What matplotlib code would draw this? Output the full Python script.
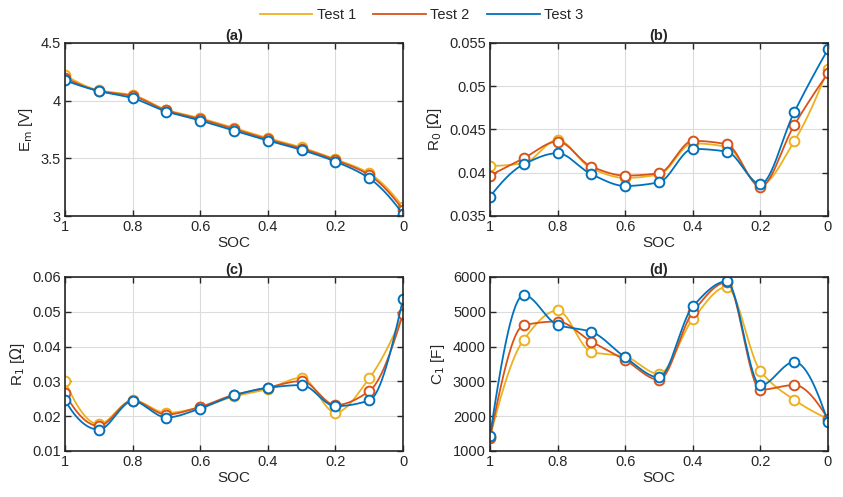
import numpy as np
import matplotlib
matplotlib.use("Agg")
import matplotlib.pyplot as plt

plt.rcParams['font.family'] = ['Liberation Sans', 'DejaVu Sans']

soc = [1.0, 0.9, 0.8, 0.7, 0.6, 0.5, 0.4, 0.3, 0.2, 0.1, 0.0]
tests = ['Test 1', 'Test 2', 'Test 3']
colors = ['#EDB120', '#D95319', '#0072BD']

# (a) Em [V]
em_t1 = [4.222, 4.090, 4.048, 3.921, 3.848, 3.764, 3.675, 3.594, 3.492, 3.370, 3.080]
em_t2 = [4.200, 4.085, 4.040, 3.915, 3.840, 3.755, 3.665, 3.585, 3.485, 3.355, 3.055]
em_t3 = [4.176, 4.083, 4.022, 3.906, 3.828, 3.741, 3.654, 3.573, 3.472, 3.327, 3.017]

# (b) R0 [Ohm]
r0_t1 = [0.04079, 0.0411, 0.0438, 0.0405, 0.0394, 0.0398, 0.0434, 0.0430, 0.0386, 0.04365, 0.05203]
r0_t2 = [0.03967, 0.04168, 0.04361, 0.04071, 0.03967, 0.03994, 0.04369, 0.0433, 0.0384, 0.0455, 0.05149]
r0_t3 = [0.03724, 0.04098, 0.04226, 0.03983, 0.03847, 0.0389, 0.04276, 0.04245, 0.0387, 0.0470, 0.05427]

# (c) R1 [Ohm]
r1_t1 = [0.0301, 0.0177, 0.0246, 0.02096, 0.0225, 0.0257, 0.0278, 0.03106, 0.02106, 0.03087, 0.04933]
r1_t2 = [0.02654, 0.01721, 0.0245, 0.02048, 0.02269, 0.02615, 0.0282, 0.0301, 0.0232, 0.02721, 0.04942]
r1_t3 = [0.02462, 0.01615, 0.02433, 0.01962, 0.02221, 0.02596, 0.02817, 0.02894, 0.02288, 0.02452, 0.05365]

# (d) C1 [F]
c1_t1 = [1400, 4202, 5038, 3846, 3712, 3212, 4788, 5712, 3298, 2471, 1930]
c1_t2 = [1375, 4615, 4721, 4144, 3615, 3048, 4990, 5846, 2760, 2894, 1930]
c1_t3 = [1423, 5481, 4625, 4423, 3692, 3115, 5154, 5875, 2885, 3558, 1827]


def pchip_curve(x, y, n=400):
    # shape-preserving cubic (like MATLAB pchip), only for the drawn line
    x = np.asarray(x, float)[::-1]
    y = np.asarray(y, float)[::-1]
    h = np.diff(x)
    delta = np.diff(y) / h
    m = len(x)
    d = np.zeros(m)
    for k in range(1, m - 1):
        if delta[k - 1] * delta[k] > 0:
            w1 = 2 * h[k] + h[k - 1]
            w2 = h[k] + 2 * h[k - 1]
            d[k] = (w1 + w2) / (w1 / delta[k - 1] + w2 / delta[k])

    def end_slope(h0, h1, d0, d1):
        s = ((2 * h0 + h1) * d0 - h0 * d1) / (h0 + h1)
        if np.sign(s) != np.sign(d0):
            s = 0.0
        elif np.sign(d0) != np.sign(d1) and abs(s) > abs(3 * d0):
            s = 3 * d0
        return s

    d[0] = end_slope(h[0], h[1], delta[0], delta[1])
    d[-1] = end_slope(h[-1], h[-2], delta[-1], delta[-2])
    xs = np.linspace(x[0], x[-1], n)
    idx = np.clip(np.searchsorted(x, xs) - 1, 0, m - 2)
    t = (xs - x[idx]) / h[idx]
    h00 = 2 * t ** 3 - 3 * t ** 2 + 1
    h10 = t ** 3 - 2 * t ** 2 + t
    h01 = -2 * t ** 3 + 3 * t ** 2
    h11 = t ** 3 - t ** 2
    ys = h00 * y[idx] + h10 * h[idx] * d[idx] + h01 * y[idx + 1] + h11 * h[idx] * d[idx + 1]
    return xs, ys


panels = [
    ('(a)', r'E$_\mathrm{m}$ [V]', [em_t1, em_t2, em_t3], (3, 4.5), [3, 3.5, 4, 4.5], ['3', '3.5', '4', '4.5']),
    ('(b)', r'R$_0$ [$\Omega$]', [r0_t1, r0_t2, r0_t3], (0.035, 0.055),
     [0.035, 0.04, 0.045, 0.05, 0.055], ['0.035', '0.04', '0.045', '0.05', '0.055']),
    ('(c)', r'R$_1$ [$\Omega$]', [r1_t1, r1_t2, r1_t3], (0.01, 0.06),
     [0.01, 0.02, 0.03, 0.04, 0.05, 0.06], ['0.01', '0.02', '0.03', '0.04', '0.05', '0.06']),
    ('(d)', r'C$_1$ [F]', [c1_t1, c1_t2, c1_t3], (1000, 6000),
     [1000, 2000, 3000, 4000, 5000, 6000], ['1000', '2000', '3000', '4000', '5000', '6000']),
]

W, H = 843, 497
fig = plt.figure(figsize=(W / 100, H / 100), dpi=100)
boxes = [(65, 43, 403, 216), (490, 43, 828, 216), (65, 277, 403, 451), (490, 277, 828, 451)]

handles = []
for (title, ylabel, series, ylim, yticks, yticklabels), (l, t, r, btm) in zip(panels, boxes):
    ax = fig.add_axes([l / W, 1 - btm / H, (r - l) / W, (btm - t) / H])
    for vals, col, name in zip(series, colors, tests):
        xs, ys = pchip_curve(soc, vals)
        line, = ax.plot(xs, ys, color=col, lw=1.3, label=name)
        ax.plot(soc, vals, 'o', color=col, mfc='white', mec=col, ms=7, mew=1.4)
        if title == '(a)':
            handles.append(line)
    ax.set_xlim(1, 0)
    ax.set_ylim(*ylim)
    ax.set_xticks([1, 0.8, 0.6, 0.4, 0.2, 0])
    ax.set_xticklabels(['1', '0.8', '0.6', '0.4', '0.2', '0'])
    ax.set_yticks(yticks)
    ax.set_yticklabels(yticklabels)
    ax.grid(True, color='#dcdcdc', lw=0.8)
    ax.set_axisbelow(True)
    ax.tick_params(direction='in', top=True, right=True, length=4, width=1,
                   labelsize=10.5, colors='#262626', pad=3)
    for sp in ax.spines.values():
        sp.set_color('#262626')
        sp.set_linewidth(1.2)
    ax.set_xlabel('SOC', fontsize=11, color='#262626', labelpad=1)
    ax.set_ylabel(ylabel, fontsize=11, color='#262626', labelpad=4)
    ax.set_title(title, fontsize=10.5, fontweight='bold', color='#262626', pad=2)

fig.legend(handles, tests, loc='center', bbox_to_anchor=(0.5, 1 - 15 / H), ncol=3,
           frameon=False, fontsize=10.5, handlelength=3.6, handletextpad=0.3,
           columnspacing=1.2, labelcolor='#262626')

fig.savefig('out.png', dpi=100)
